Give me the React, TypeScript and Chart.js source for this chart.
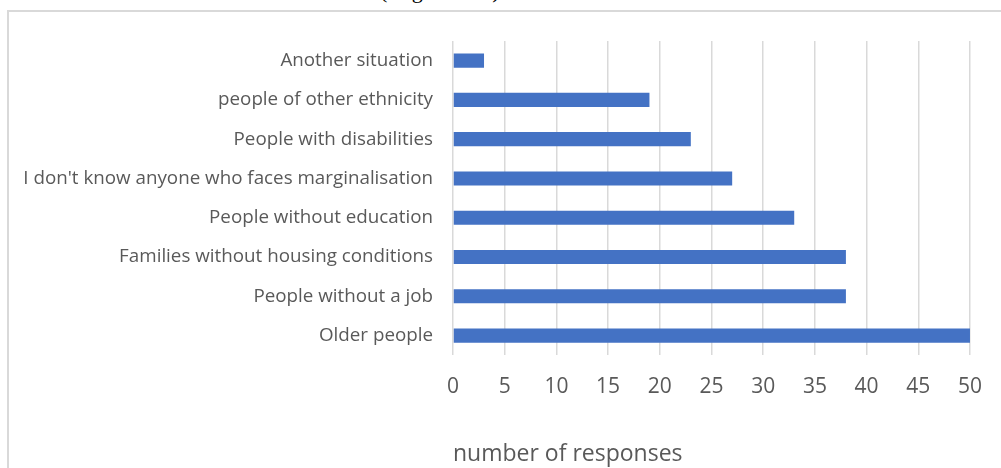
import React, { useEffect, useRef } from "react";
import { Chart, registerables } from "chart.js";

Chart.register(...registerables);

const categories: string[] = [
  "Another situation",
  "people of other ethnicity",
  "People with disabilities",
  "I don't know anyone who faces marginalisation",
  "People without education",
  "Families without housing conditions",
  "People without a job",
  "Older people",
];

const responses: number[] = [3, 19, 23, 27, 33, 38, 38, 50];

const xTickMin = 0;
const xTickMax = 50;
const xTickStep = 5;

const axisTitle = "number of responses";
const caption = "(Figure 10)";

export default function App() {
  const canvasRef = useRef<HTMLCanvasElement | null>(null);

  useEffect(() => {
    if (!canvasRef.current) return;
    const chart = new Chart(canvasRef.current, {
      type: "bar",
      data: {
        labels: categories,
        datasets: [
          {
            label: "responses",
            data: responses,
            backgroundColor: "#4472C4",
            borderWidth: 0,
            categoryPercentage: 1,
            barPercentage: 0.36,
          },
        ],
      },
      options: {
        indexAxis: "y",
        animation: false,
        responsive: false,
        maintainAspectRatio: false,
        layout: { padding: { left: 0, right: 27, top: 41, bottom: 0 } },
        plugins: {
          legend: { display: false },
          tooltip: { enabled: false },
        },
        scales: {
          x: {
            min: xTickMin,
            max: xTickMax,
            ticks: {
              stepSize: xTickStep,
              color: "#595959",
              font: { family: "'Open Sans'", size: 21 },
              padding: 19,
            },
            grid: { color: "#d9d9d9", lineWidth: 1.5, drawTicks: false },
            border: { display: false },
            title: {
              display: true,
              text: axisTitle,
              align: "start",
              color: "#595959",
              font: { family: "'Open Sans'", size: 23 },
              padding: { top: 22, bottom: 0 },
            },
          },
          y: {
            ticks: {
              color: "#595959",
              font: { family: "'Open Sans'", size: 18.8 },
              padding: 12,
            },
            grid: { display: false },
            border: { display: false },
            afterFit: (scale: any) => {
              scale.width = 453;
            },
          },
        },
      },
    });
    return () => chart.destroy();
  }, []);

  return (
    <div
      style={{
        position: "fixed",
        left: 0,
        top: 0,
        width: 1001,
        height: 468,
        overflow: "hidden",
        background: "#ffffff",
      }}
    >
      <div
        style={{
          position: "absolute",
          left: 380,
          top: -22,
          fontFamily: "'Liberation Serif', serif",
          fontSize: 22,
          letterSpacing: 2,
          color: "#000",
          whiteSpace: "nowrap",
        }}
      >
        {caption}
      </div>
      <div
        style={{
          position: "absolute",
          left: 7,
          top: 10,
          width: 1100,
          height: 600,
          border: "2px solid #d9d9d9",
          boxSizing: "border-box",
        }}
      />
      <canvas
        ref={canvasRef}
        width={1001}
        height={468}
        style={{ position: "absolute", left: 0, top: 0, width: 1001, height: 468 }}
      />
    </div>
  );
}
